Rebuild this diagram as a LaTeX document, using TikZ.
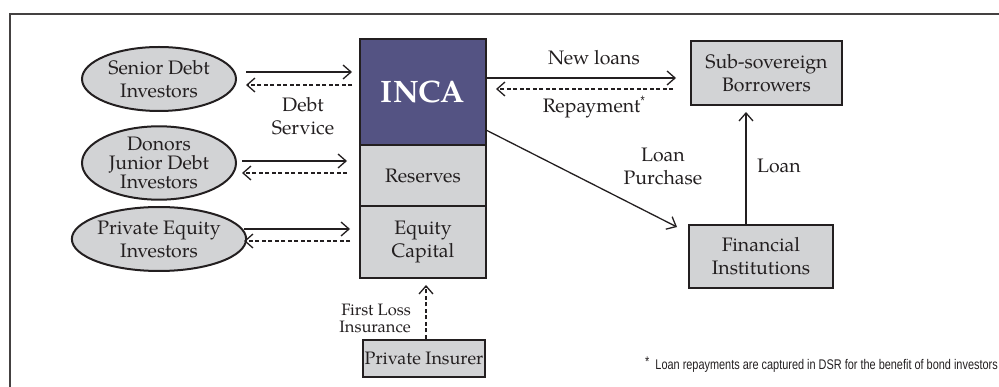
\documentclass[tikz,border=0pt]{standalone}
\usepackage{fontspec}
\setmainfont{TeX Gyre Pagella}
\newfontfamily\footfont[FakeStretch=0.78]{Liberation Sans}
\usetikzlibrary{arrows.meta,shapes.geometric}
\definecolor{incablue}{HTML}{545383}
\definecolor{boxgray}{HTML}{D2D3D5}
\definecolor{ink}{HTML}{231F20}
\begin{document}
\begin{tikzpicture}[x=1pt,y=-1pt,
  box/.style={draw=ink, line width=2pt, fill=boxgray, inner sep=0pt, align=center, text=ink,
    font=\fontsize{19.5}{23}\selectfont},
  inv/.style={ellipse, draw=ink, line width=2pt, fill=boxgray, inner sep=0pt, align=center, text=ink,
    minimum width=154pt, minimum height=64pt, font=\fontsize{19.5}{23}\selectfont},
  flow/.style={draw=ink, line width=1.3pt, -{Straight Barb[length=8pt,width=14pt,line width=1.3pt]}},
  back/.style={flow, dash pattern=on 4pt off 2.5pt},
  lbl/.style={font=\fontsize{19.5}{23}\selectfont, align=center, text=ink, inner sep=0pt}
]
\useasboundingbox (0,0) rectangle (999,387);
% frame
\draw[draw=ink!85, line width=2pt] (10,387) -- (10,14) -- (999,14);

% investors
\node[inv] (sd) at (159,79) {Senior Debt\\Investors};
\node[inv, font=\fontsize{19.5}{19}\selectfont] (dj) at (159,163) {Donors\\Junior Debt\\Investors};
\node[inv] (pe) at (159,239) {Private Equity\\Investors};

% INCA stack
\node[box, fill=incablue, minimum width=126pt, minimum height=106pt, text=white,
  font=\fontsize{31}{36}\selectfont\bfseries] (inca) at (423,92) {INCA};
\node[box, minimum width=126pt, minimum height=61pt] (res) at (423,175.5) {Reserves};
\node[box, minimum width=126pt, minimum height=72pt] (eq) at (423,242) {Equity\\Capital};
\node[box, minimum width=122pt, minimum height=37pt, font=\fontsize{18}{22}\selectfont] (ins) at (424,358.5) {Private Insurer};

% right side
\node[box, minimum width=151pt, minimum height=64pt] (sub) at (766.5,73) {Sub-sovereign\\Borrowers};
\node[box, minimum width=144pt, minimum height=63pt] (fi) at (761,256.5) {Financial\\Institutions};

% connector coordinates
\coordinate (s1) at (246,72);  \coordinate (s2) at (352,72);
\coordinate (s3) at (352,85);  \coordinate (s4) at (246,85);
\coordinate (d1) at (242,161); \coordinate (d2) at (347,161);
\coordinate (d3) at (347,173); \coordinate (d4) at (242,173);
\coordinate (p1) at (244,229); \coordinate (p2) at (350,229);
\coordinate (p3) at (350,241); \coordinate (p4) at (244,241);
\coordinate (n1) at (486,78);  \coordinate (n2) at (676,78);
\coordinate (r1) at (673,89);  \coordinate (r2) at (496,89);
\coordinate (lp1) at (486,130); \coordinate (lp2) at (677,227);
\coordinate (l2) at (746,112);
\coordinate (i2) at (426,285);

\draw[flow] (s1) -- (s2);
\draw[back] (s3) -- (s4);
\draw[flow] (d1) -- (d2);
\draw[back] (d3) -- (d4);
\draw[flow] (p1) -- (p2);
\draw[back] (p3) -- (p4);
\draw[flow] (n1) -- (n2);
\draw[back] (r1) -- (r2);
\draw[flow] (lp1) -- (lp2);
\draw[flow] (fi.north -| l2) -- (l2);
\draw[back] (ins.north -| i2) -- (i2);

% labels
\node[lbl] (ds) at (303,116) {Debt\\Service};
\node[lbl] (nl) at (594,58) {New loans};
\node[lbl] (rp) at (594,107) {Repayment\textsuperscript{\footfont *}};
\node[lbl] (lpl) at (663,166) {Loan\\Purchase};
\node[lbl] (ll) at (779,166) {Loan};
\node[lbl, font=\fontsize{16.5}{17}\selectfont, align=right, anchor=east] (fl) at (411,318) {First Loss\\Insurance};
\node[anchor=east, inner sep=0pt, text=ink, font=\footfont\fontsize{14}{16}\selectfont] (fn) at (998,365)
  {\raisebox{3pt}{*}\ \ Loan repayments are captured in DSR for the benefit of bond investors};
\end{tikzpicture}
\end{document}
